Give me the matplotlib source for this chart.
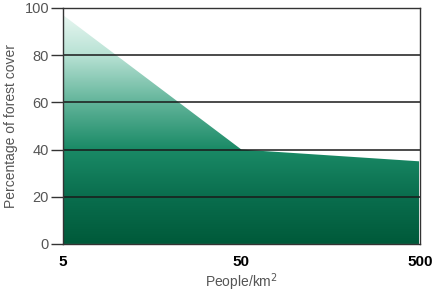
import numpy as np
import matplotlib.pyplot as plt
from matplotlib.colors import LinearSegmentedColormap

# data
density = [5, 50, 500]          # people per km2
forest_cover = [97, 40, 35]     # percentage of forest cover
x_ticks = [5, 50, 500]
y_ticks = [0, 20, 40, 60, 80, 100]

plt.rcParams['font.family'] = ['Liberation Sans', 'DejaVu Sans']

fig = plt.figure(figsize=(4.36, 2.95), dpi=100)
ax = fig.add_axes([0.1445, 0.173, 0.8185, 0.80])
ax.set_xscale('log')
ax.set_xlim(5, 500)
ax.set_ylim(0, 100)

# vertical gradient, clipped to the area under the curve
cmap = LinearSegmentedColormap.from_list(
    'forest', [(0.0, '#005a3a'), (0.2, '#0a6e4e'), (0.4, '#1a8a66'),
               (0.6, '#62b49a'), (0.8, '#b8e2d4'), (1.0, '#f0faf6')])
grad = np.linspace(0, 1, 256).reshape(-1, 1)
img = ax.imshow(grad, cmap=cmap, origin='lower', aspect='auto',
                extent=[5, 500, 0, 100], zorder=1)
poly = ax.fill_between(density, forest_cover, 0, color='none', zorder=1)
img.set_clip_path(poly.get_paths()[0], transform=ax.transData)

for y in y_ticks[1:-1]:
    ax.axhline(y, color='#1a1a1a', lw=1.1, zorder=2)

ax.set_yticks(y_ticks)
ax.set_yticklabels([str(v) for v in y_ticks], fontsize=10.5, color='#555555')
ax.set_xticks(x_ticks)
ax.set_xticklabels([str(v) for v in x_ticks], fontsize=11, fontweight='bold')
ax.minorticks_off()
ax.tick_params(axis='y', length=9, width=1, color='#333333', pad=1)
ax.tick_params(axis='x', length=0, pad=8)

for s in ax.spines.values():
    s.set_color('#333333')
    s.set_linewidth(1)
    s.set_zorder(3)

ax.set_ylabel('Percentage of forest cover', fontsize=10, color='#555555', labelpad=5)
ax.set_xlabel('People/km$^2$', fontsize=10, color='#555555', labelpad=2)

fig.savefig('out.png', dpi=100)
